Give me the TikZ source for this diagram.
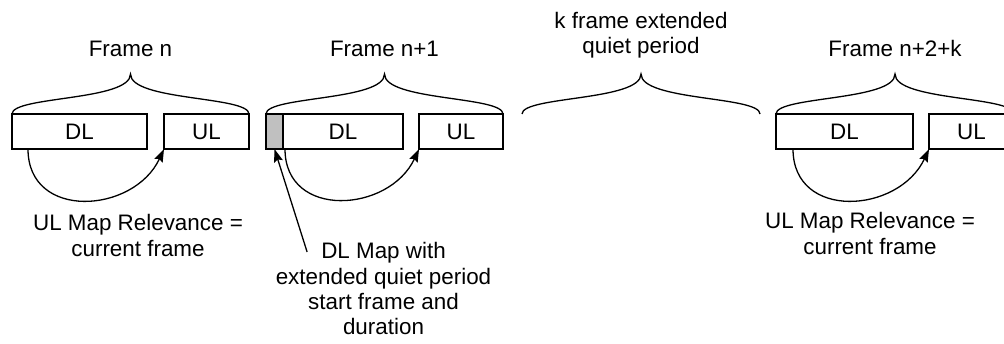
\documentclass[tikz,border=0pt]{standalone}
\usepackage{fontspec}
\setmainfont{Liberation Sans}
\usetikzlibrary{positioning,calc,arrows.meta}
\definecolor{quietgray}{RGB}{192,192,192}
\tikzset{%
	block/.style    = {draw, rectangle, minimum height = 17.5pt,
		inner sep = 0pt, outer sep = 0pt},
	note/.style     = {align = center, inner sep = 0pt}
}
\newcommand{\framebrace}[3]{%
	\draw let \p1 = (#1), \p2 = (#2), \p3 = ($(#1)!0.5!(#2)$) in
		(\p1) .. controls (\x1,\y1+9pt) and (\x3,\y1+6.5pt) .. (\x3,\y1+20pt) coordinate (#3)
		.. controls (\x3,\y1+6.5pt) and (\x2,\y2+9pt) .. (\p2);
}
\begin{document}
\begin{tikzpicture}[line width=0.65pt,
          >={Stealth[length=6.5pt,width=4.5pt,inset=1pt]},
          font=\fontsize{11.2pt}{12.6pt}\selectfont]
        \useasboundingbox (0,0) rectangle (502pt,-171.5pt);
        \draw
        	node at (39.75pt,-65.75pt)[block, minimum width=67.5pt, name=dln]{DL}
        	node [block, minimum width=42.5pt, right=8.5pt of dln] (uln) {UL}
        	node [block, fill=quietgray, minimum width=8.5pt, right=8.5pt of uln] (dlmap) {}
        	node [block, minimum width=60pt, right=0pt of dlmap] (dln1) {DL}
        	node [block, minimum width=42pt, right=8pt of dln1] (uln1) {UL}
        	node [block, minimum width=68.5pt, right=136.5pt of uln1] (dlnk) {DL}
        	node [block, minimum width=42.5pt, right=8pt of dlnk] (ulnk) {UL};
        	
        	\coordinate (qps) at ([xshift=9.5pt]uln1.north east);
        	\coordinate (qpe) at ([xshift=-8pt]dlnk.north west);
        	
        	\framebrace{dln.north west}{uln.north east}{tipn}
        	\framebrace{dlmap.north west}{uln1.north east}{tipn1}
        	\framebrace{qps}{qpe}{tipq}
        	\framebrace{dlnk.north west}{ulnk.north east}{tipnk}
        	
        	\node [note, above=8.5pt of tipn] (framen) {Frame n};
        	\node [note, above=8.5pt of tipn1] (framen1) {Frame n+1};
        	\node [note, above=7.5pt of tipq] (quiet) {k frame extended\\quiet period};
        	\node [note, above=8.5pt of tipnk] (framenk) {Frame n+2+k};
        	
        	\draw[->]([xshift=8pt]dln.south west) to[out=-90, in=-115, looseness=1.35] (uln.south west);
        	\draw[->]([xshift=1pt]dln1.south west) to[out=-90, in=-115, looseness=1.35] (uln1.south west);
        	\draw[->]([xshift=8.5pt]dlnk.south west) to[out=-90, in=-115, looseness=1.35] (ulnk.south west);
        	
        	\node [note, anchor=north] (reln) at (69pt,-107pt) {UL Map Relevance =\\current frame};
        	\node [note, anchor=north] (relnk) at (435pt,-106pt) {UL Map Relevance =\\current frame};
        	\node [note, anchor=north] (mapnote) at (191.75pt,-121pt)
        		{DL Map with\\extended quiet period\\start frame and\\duration};
        	
        	\draw[->]([shift={(16pt,-5pt)}]mapnote.north west) -- (dlmap.south);
    \end{tikzpicture}
\end{document}
